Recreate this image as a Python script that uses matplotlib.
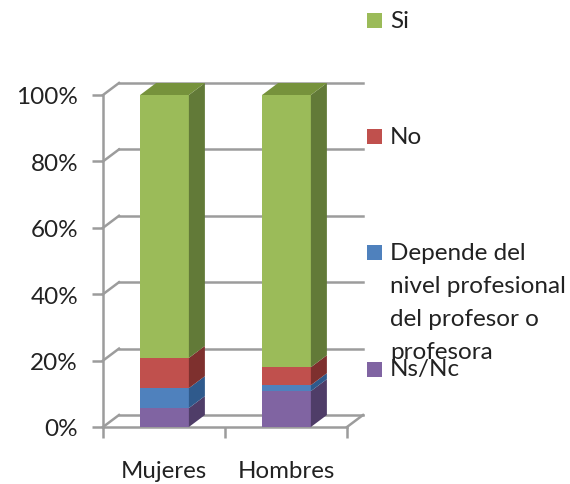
import matplotlib
matplotlib.use("Agg")
import matplotlib.pyplot as plt
from matplotlib.patches import Polygon, Rectangle

categories = ["Mujeres", "Hombres"]
series_names = ["Ns/Nc", "Depende del\nnivel profesional\ndel profesor o\nprofesora", "No", "Si"]
ns_nc = [5.7, 10.8]
depende = [6.0, 1.8]
no = [9.1, 5.4]
si = [79.2, 82.0]
series = [ns_nc, depende, no, si]
yticks = [0, 20, 40, 60, 80, 100]

front = ["#8064A2", "#4F81BD", "#C0504D", "#9BBB59"]
side = ["#4F3D68", "#2F5A8C", "#7E302E", "#627A38"]
top = "#76923C"
grid = "#9C9C9C"

W, H = 570, 485
fig = plt.figure(figsize=(W / 100, H / 100), dpi=100)
plt.rcParams["font.family"] = ["Lato", "DejaVu Sans"]
L, R, T, B = 103, 347, 96, 428
ax = fig.add_axes([L / W, 1 - B / H, (R - L) / W, (B - T) / H])
ax.set_xlim(0, 2)
ax.set_ylim(0, 100)
ddx = 16 / ((R - L) / 2)
ddy = 12 / ((B - T) / 100)

for s in ["top", "right"]:
    ax.spines[s].set_visible(False)
for s in ["left", "bottom"]:
    ax.spines[s].set_color(grid)
    ax.spines[s].set_linewidth(1.8)

for y in yticks:
    ax.plot([0, ddx], [y, y + ddy], color=grid, lw=1.8, clip_on=False, zorder=1)
    ax.plot([ddx, 2 + ddx], [y + ddy, y + ddy], color=grid, lw=1.8, clip_on=False, zorder=1)
ax.plot([2, 2 + ddx], [0, ddy], color=grid, lw=1.8, clip_on=False, zorder=1)

ax.set_yticks(yticks, [f"{y}%" for y in yticks], fontsize=17.5, color="#222222")
ax.set_xticks([0, 1, 2], ["", "", ""])
ax.tick_params(axis="both", color=grid, width=1.8, length=8)
ax.tick_params(axis="y", pad=10)

centers = [0.504, 1.504]
bw = 0.40
for i, c in enumerate(centers):
    bottom = 0
    x1 = c + bw / 2
    x0 = c - bw / 2
    for vals, fc, sc in zip(series, front, side):
        v = vals[i]
        ax.bar(c, v, bw, bottom=bottom, color=fc, zorder=3, clip_on=False)
        ax.add_patch(Polygon([(x1, bottom), (x1, bottom + v), (x1 + ddx, bottom + v + ddy),
                              (x1 + ddx, bottom + ddy)], closed=True, fc=sc, ec="none",
                             zorder=3, clip_on=False))
        bottom += v
    ax.add_patch(Polygon([(x0, bottom), (x1, bottom), (x1 + ddx, bottom + ddy), (x0 + ddx, bottom + ddy)],
                         closed=True, fc=top, ec="none", zorder=3, clip_on=False))
    fig.text((L + c * (R - L) / 2 - 0.5) / W, 1 - 472 / H, categories[i], ha="center", va="center",
             fontsize=17.3, color="#222222")

legend_y = [370, 253, 137, 21]
square_y = [370, 253, 137, 21]
for name, col, ty, sy in zip(series_names, front, legend_y, square_y):
    fig.add_artist(Rectangle((367 / W, 1 - (sy + 7.5) / H), 15 / W, 15 / H, transform=fig.transFigure,
                             fc=col, ec="none"))
    for j, line in enumerate(name.split("\n")):
        fig.text(390 / W, 1 - (ty + j * 33.3) / H, line, ha="left", va="center", fontsize=17.5, color="#222222")

fig.savefig("out.png", dpi=100, facecolor="white")
